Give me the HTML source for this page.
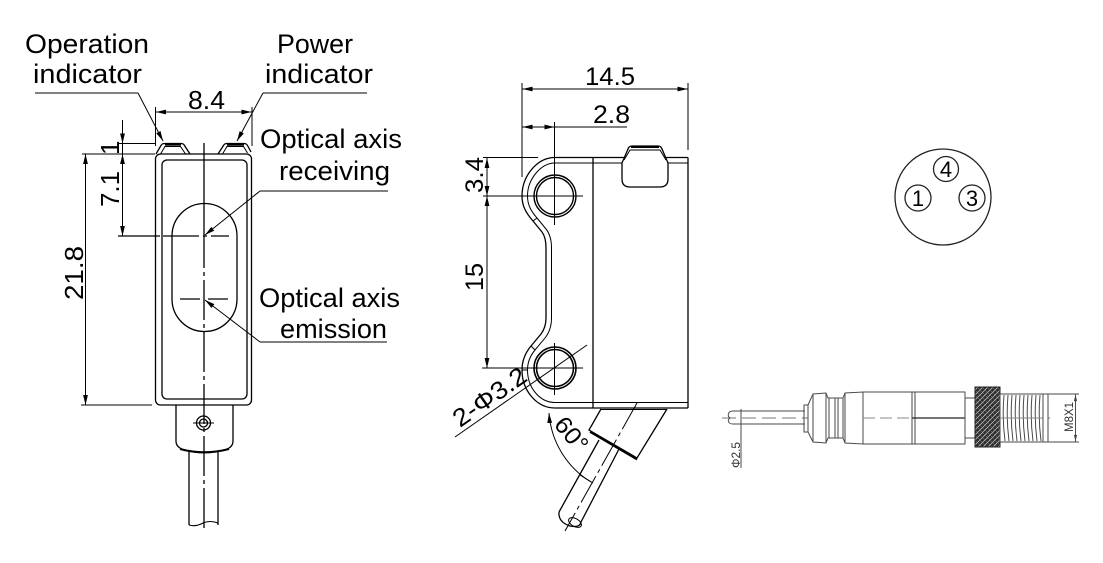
<!DOCTYPE html>
<html>
<head>
<meta charset="utf-8">
<style>
html,body{margin:0;padding:0;background:#fff;}
svg{display:block;}
text{font-family:"Liberation Sans","DejaVu Sans",sans-serif;fill:#000;}
</style>
</head>
<body>
<svg width="1103" height="563" viewBox="0 0 1103 563" xmlns="http://www.w3.org/2000/svg">
<defs>
<marker id="ar" viewBox="0 0 10 6" refX="10" refY="3" markerWidth="10" markerHeight="6" markerUnits="userSpaceOnUse" orient="auto-start-reverse"><path d="M0,0.6 L10,3 L0,5.4 Z" fill="#000"/></marker>
<marker id="arg" viewBox="0 0 10 6" refX="10" refY="3" markerWidth="7" markerHeight="4" markerUnits="userSpaceOnUse" orient="auto-start-reverse"><path d="M0,0.6 L10,3 L0,5.4 Z" fill="#444"/></marker>
<pattern id="knurl" width="5" height="5" patternUnits="userSpaceOnUse">
<rect width="5" height="5" fill="#2e2e2e"/>
<path d="M0,5 L5,0 M-1,1 L1,-1 M4,6 L6,4" stroke="#cfcfcf" stroke-width="0.7"/>
<path d="M0,0 L5,5" stroke="#8a8a8a" stroke-width="0.5"/>
</pattern>
</defs>

<!-- ================= LEFT VIEW ================= -->
<g fill="none" stroke="#000" stroke-width="1.3">
  <!-- body -->
  <rect x="155.5" y="154" width="96" height="251" rx="5"/>
  <rect x="162" y="160" width="85" height="239" rx="5"/>
  <!-- indicators -->
  <path d="M156,154 L161,145.5 Q162,143.5 164.5,143.5 L181,143.5 Q183.5,143.5 184.5,145.5 L190,154"/>
  <path d="M160.5,154 L165,146.5 L180.5,146.5 L185.5,154" stroke-width="1"/>
  <line x1="165" y1="144.5" x2="181" y2="144.5" stroke-width="2.4"/>
  <path d="M218,154 L223.5,145.5 Q224.5,143.5 227,143.5 L244,143.5 Q246.5,143.5 247.5,145.5 L251,152"/>
  <path d="M222.5,154 L227,146.5 L243.5,146.5 L247.5,153" stroke-width="1"/>
  <line x1="227" y1="144.5" x2="244" y2="144.5" stroke-width="2.4"/>
  <!-- window -->
  <path d="M172,236 A32.5,32.5 0 0 1 237,236 L237,299 A32.5,32.5 0 0 1 172,299 Z"/>
  <!-- center line -->
  <line x1="204" y1="143" x2="204" y2="228"/>
  <line x1="204" y1="228" x2="204" y2="532" stroke-dasharray="40,4,4,4"/>
  <!-- receiving axis line -->
  <line x1="118" y1="236" x2="160" y2="236"/>
  <line x1="163" y1="236" x2="229" y2="236" stroke-dasharray="36,4,4,4"/>
  <!-- emission axis -->
  <line x1="180" y1="299" x2="200" y2="299"/>
  <line x1="208" y1="299" x2="228" y2="299"/>
  <!-- tab -->
  <path d="M176,405 L176,441 Q176,447 183,449.5 Q204,456 226,449.5 Q233,447 233,441 L233,405"/>
  <path d="M180,449 Q204,455.5 229,449" stroke-width="2"/>
  <circle cx="203.5" cy="423" r="7"/>
  <circle cx="203.5" cy="423" r="4"/>
  <line x1="193" y1="423" x2="214" y2="423" stroke-width="1"/>
  <!-- cable -->
  <line x1="189" y1="452" x2="189" y2="525"/>
  <line x1="218" y1="452" x2="218" y2="525"/>
  <path d="M189,525 Q196,527 203,523 Q210,520 218,523" stroke-width="1.1"/>

  <!-- dimension 8.4 -->
  <line x1="155.5" y1="107" x2="155.5" y2="146" stroke-width="1"/>
  <line x1="252" y1="107" x2="252" y2="146" stroke-width="1"/>
  <line x1="156" y1="112" x2="251.5" y2="112" stroke-width="1" marker-start="url(#ar)" marker-end="url(#ar)"/>
  <!-- dimension 1 / 7.1 -->
  <line x1="119" y1="143.5" x2="155" y2="143.5" stroke-width="1"/>
  <line x1="82" y1="154" x2="155" y2="154" stroke-width="1"/>
  <line x1="122.5" y1="120" x2="122.5" y2="143.5" stroke-width="1" marker-end="url(#ar)"/>
  <line x1="122.5" y1="143.5" x2="122.5" y2="154" stroke-width="1"/>
  <line x1="122.5" y1="154" x2="122.5" y2="236" stroke-width="1" marker-start="url(#ar)" marker-end="url(#ar)"/>
  <!-- dimension 21.8 -->
  <line x1="81" y1="405" x2="152" y2="405" stroke-width="1"/>
  <line x1="85.5" y1="154" x2="85.5" y2="405" stroke-width="1" marker-start="url(#ar)" marker-end="url(#ar)"/>

  <!-- leaders -->
  <polyline points="35,93 138,93" stroke-width="1"/>
  <line x1="138" y1="93" x2="163" y2="141" stroke-width="1" marker-end="url(#ar)"/>
  <polyline points="367,93 263,93" stroke-width="1"/>
  <line x1="263" y1="93" x2="237" y2="141" stroke-width="1" marker-end="url(#ar)"/>
  <line x1="388" y1="191" x2="260" y2="191" stroke-width="1"/>
  <line x1="260" y1="191" x2="205" y2="235" stroke-width="1" marker-end="url(#ar)"/>
  <line x1="387" y1="342" x2="260" y2="342" stroke-width="1"/>
  <line x1="260" y1="342" x2="205" y2="300" stroke-width="1" marker-end="url(#ar)"/>
</g>

<!-- left view text -->
<g font-size="27">
  <text x="25" y="53" textLength="124" lengthAdjust="spacingAndGlyphs">Operation</text>
  <text x="33" y="83" textLength="109" lengthAdjust="spacingAndGlyphs">indicator</text>
  <text x="277" y="53" textLength="76" lengthAdjust="spacingAndGlyphs">Power</text>
  <text x="265" y="83" textLength="108" lengthAdjust="spacingAndGlyphs">indicator</text>
  <text x="260" y="148" textLength="142" lengthAdjust="spacingAndGlyphs">Optical axis</text>
  <text x="279" y="180" textLength="111" lengthAdjust="spacingAndGlyphs">receiving</text>
  <text x="259" y="307" textLength="141" lengthAdjust="spacingAndGlyphs">Optical axis</text>
  <text x="280" y="338" textLength="107" lengthAdjust="spacingAndGlyphs">emission</text>
</g>
<g font-size="26">
  <text x="188" y="109" textLength="37" lengthAdjust="spacingAndGlyphs">8.4</text>
  <text transform="translate(119,155) rotate(-90)" x="0" y="0">1</text>
  <text transform="translate(119,207) rotate(-90)" x="0" y="0" textLength="36" lengthAdjust="spacingAndGlyphs">7.1</text>
  <text transform="translate(83,300) rotate(-90)" x="0" y="0" textLength="54" lengthAdjust="spacingAndGlyphs">21.8</text>
</g>

<!-- ================= MIDDLE VIEW ================= -->
<g fill="none" stroke="#000" stroke-width="1.3">
  <!-- body -->
  <line x1="555" y1="157.5" x2="688" y2="157.5"/>
  <line x1="555" y1="163" x2="688" y2="163" stroke-width="1"/>
  <line x1="688" y1="157.5" x2="688" y2="408"/>
  <line x1="593" y1="157.5" x2="593" y2="408"/>
  <line x1="555" y1="402.5" x2="688" y2="402.5" stroke-width="1"/>
  <line x1="555" y1="408" x2="688" y2="408"/>
  <!-- bracket -->
  <path d="M555,157.5 C537,157.5 522,176 522,196 C522,206 526,213 533,221 L542,232 C545,236 546,241 546,248 L546,318 C546,325 544,330 541,334 L531,346 C526,352 522,360 522,370 C522,391 537,408 555,408"/>
  <path d="M555,163 C541,163 527.5,179 527.5,196 C527.5,205 531,211 537,218 L546,229 C550,234 551.5,240 551.5,248 L551.5,318 C551.5,327 549,333 545,338 L535,350 C530,356 527.5,362 527.5,370 C527.5,388 540,402.5 555,402.5" stroke-width="1"/>
  <line x1="522" y1="196" x2="527.5" y2="196" stroke-width="1"/>
  <line x1="533" y1="221" x2="537" y2="218" stroke-width="1"/>
  <line x1="522" y1="370" x2="527.5" y2="370" stroke-width="1"/>
  <line x1="531" y1="346" x2="535" y2="350" stroke-width="1"/>
  <!-- holes -->
  <circle cx="555" cy="196" r="21" stroke-width="1.4"/>
  <circle cx="555" cy="196" r="18.5" stroke-width="1.4"/>
  <circle cx="555" cy="368" r="21" stroke-width="1.6"/>
  <circle cx="555" cy="368" r="18.5" stroke-width="1.6"/>
  <!-- hole center lines -->
  <line x1="554.5" y1="122" x2="554.5" y2="225" stroke-width="1"/>
  <line x1="483" y1="196" x2="583" y2="196" stroke-width="1"/>
  <line x1="554.5" y1="343" x2="554.5" y2="395" stroke-width="1"/>
  <line x1="482" y1="368" x2="583" y2="368" stroke-width="1"/>
  <!-- indicator -->
  <path d="M622,163 L628,149 Q629,146 632,146 L658,146 Q661,146 662,149 L668,163 L668,179 Q668,187 660,187 L630,187 Q622,187 622,179 Z" fill="#fff"/>
  <path d="M624,160 L630,150 L660,150 L666,160" stroke-width="1"/>
  <line x1="631" y1="147" x2="659" y2="147" stroke-width="2"/>

  <!-- dims -->
  <line x1="522" y1="83" x2="522" y2="177" stroke-width="1"/>
  <line x1="688" y1="83" x2="688" y2="150" stroke-width="1"/>
  <line x1="522.5" y1="89" x2="687.5" y2="89" stroke-width="1" marker-start="url(#ar)" marker-end="url(#ar)"/>
  <line x1="522.5" y1="127" x2="540" y2="127" stroke-width="1" marker-start="url(#ar)"/>
  <line x1="537" y1="127" x2="554.5" y2="127" stroke-width="1" marker-end="url(#ar)"/>
  <line x1="554.5" y1="127" x2="627" y2="127" stroke-width="1"/>
  <line x1="483" y1="157.5" x2="538" y2="157.5" stroke-width="1"/>
  <line x1="487" y1="158" x2="487" y2="196" stroke-width="1" marker-start="url(#ar)" marker-end="url(#ar)"/>
  <line x1="487" y1="196" x2="487" y2="368" stroke-width="1" marker-start="url(#ar)" marker-end="url(#ar)"/>
  <!-- 2-Φ3.2 leader -->
  <line x1="455" y1="437" x2="587" y2="345" stroke-width="1"/>

  <!-- strain relief & cable -->
  <line x1="600" y1="409.5" x2="667" y2="409.5" stroke-width="1"/>
  <path d="M601,409 L589,430 L637,458 L667,409"/>
  <line x1="590" y1="432" x2="637" y2="459.5" stroke-width="1.8"/>
  <line x1="599" y1="440" x2="559" y2="512"/>
  <line x1="619" y1="449" x2="581" y2="522"/>
  <path d="M559,512 Q558,522 570,526 Q580,528 581,522"/>
  <ellipse cx="575" cy="522.5" rx="7" ry="4" transform="rotate(30 575 522.5)" stroke-width="1"/>
  <line x1="637" y1="403" x2="565" y2="531" stroke-width="1" stroke-dasharray="30,4,4,4"/>
  <line x1="580" y1="475" x2="593" y2="483" stroke-width="1"/>
  <!-- 60 deg arc -->
  <path d="M549,413 A88,88 0 0 0 591,482" stroke-width="1" marker-start="url(#ar)"/>
</g>
<g font-size="25">
  <text x="585" y="85" textLength="50" lengthAdjust="spacingAndGlyphs">14.5</text>
  <text x="593" y="123" textLength="37" lengthAdjust="spacingAndGlyphs">2.8</text>
  <text transform="translate(483,193) rotate(-90)" x="0" y="0" textLength="36" lengthAdjust="spacingAndGlyphs">3.4</text>
  <text transform="translate(483,291) rotate(-90)" x="0" y="0" textLength="28" lengthAdjust="spacingAndGlyphs">15</text>
  <text transform="translate(460,428) rotate(-35)" x="0" y="0" textLength="84" lengthAdjust="spacingAndGlyphs">2-Φ3.2</text>
  <text transform="translate(553,425) rotate(50)" x="0" y="0" font-size="24" textLength="38" lengthAdjust="spacingAndGlyphs">60°</text>
</g>

<!-- ================= PIN FACE ================= -->
<g fill="none" stroke="#222" stroke-width="1.3">
  <circle cx="943" cy="197" r="48"/>
  <circle cx="946" cy="169" r="12.5"/>
  <circle cx="918" cy="198" r="13"/>
  <circle cx="972" cy="198" r="13"/>
</g>
<g font-size="22" text-anchor="middle">
  <text x="946" y="177">4</text>
  <text x="918" y="206">1</text>
  <text x="972" y="206">3</text>
</g>

<!-- ================= CONNECTOR SIDE VIEW ================= -->
<g fill="none" stroke="#4a4a4a" stroke-width="1">
  <line x1="722" y1="418" x2="1050" y2="418" stroke-dasharray="14,6" stroke="#777"/>
  <!-- cable -->
  <line x1="733" y1="411" x2="805" y2="411"/>
  <line x1="733" y1="424" x2="805" y2="424"/>
  <path d="M733,411 C728,411 727,416 730,418 C727,420 728,424 733,424"/>
  <!-- phi 2.5 dim -->
  <line x1="741" y1="409" x2="741" y2="468"/>
  <!-- nut -->
  <rect x="804" y="405" width="4" height="27"/>
  <!-- grooved body -->
  <path d="M808,405 L813,394 L826,393 L828,398 L843,398 L845,393 L863,392 L863,444 L845,443 L843,438 L828,438 L826,443 L813,442 L808,432 Z" fill="#fff"/>
  <line x1="826" y1="393" x2="826" y2="443"/>
  <line x1="829" y1="398" x2="829" y2="438"/>
  <line x1="835" y1="398" x2="835" y2="438"/>
  <line x1="838" y1="398" x2="838" y2="438"/>
  <line x1="843" y1="398" x2="843" y2="438"/>
  <line x1="845" y1="393" x2="845" y2="443"/>
  <line x1="813" y1="394" x2="813" y2="442"/>
  <!-- hex -->
  <rect x="863" y="392" width="49" height="52" fill="#fff"/>
  <!-- next piece -->
  <path d="M912,392 L965,392 L965,444 L912,444 Z" fill="#fff"/>
  <line x1="915" y1="392" x2="915" y2="444"/>
  <line x1="912" y1="418" x2="965" y2="418" stroke="#222" stroke-width="1.2"/>
  <line x1="863" y1="418" x2="912" y2="418" stroke="#888" stroke-dasharray="12,5"/>
  <!-- ring -->
  <rect x="965" y="398" width="10" height="40" fill="#fff"/>
  <!-- knurl -->
  <rect x="975" y="387" width="25" height="60" fill="url(#knurl)" stroke="#222"/>
  <!-- threads -->
  <rect x="1000" y="394" width="43" height="48" fill="#fff"/>
  <path d="M1004,395 Q1002,418 1005,441 M1008,395 Q1006,418 1009,441 M1012,395 Q1010,418 1013,441 M1016,395 Q1014,418 1017,441 M1020,395 Q1018,418 1021,441 M1024,395 Q1022,418 1025,441 M1028,395 Q1026,418 1029,441 M1032,395 Q1030,418 1033,441 M1036,395 Q1034,418 1037,441 M1040,395 Q1038,418 1041,441"/>
  <line x1="1000" y1="418" x2="1043" y2="418" stroke="#888"/>
  <rect x="1043" y="394" width="5" height="48" fill="#fff"/>
  <!-- M8x1 dim -->
  <line x1="1048" y1="394" x2="1079" y2="394"/>
  <line x1="1048" y1="442" x2="1079" y2="442"/>
  <line x1="1075.5" y1="394.5" x2="1075.5" y2="441.5" marker-start="url(#arg)" marker-end="url(#arg)"/>
</g>
<g font-size="11.5" fill="#333">
  <text transform="translate(740,468) rotate(-90)" x="0" y="0" textLength="26" lengthAdjust="spacingAndGlyphs" style="fill:#333">Φ2.5</text>
  <text transform="translate(1073,432) rotate(-90)" x="0" y="0" textLength="30" lengthAdjust="spacingAndGlyphs" style="fill:#333">M8X1</text>
</g>
</svg>
</body>
</html>
